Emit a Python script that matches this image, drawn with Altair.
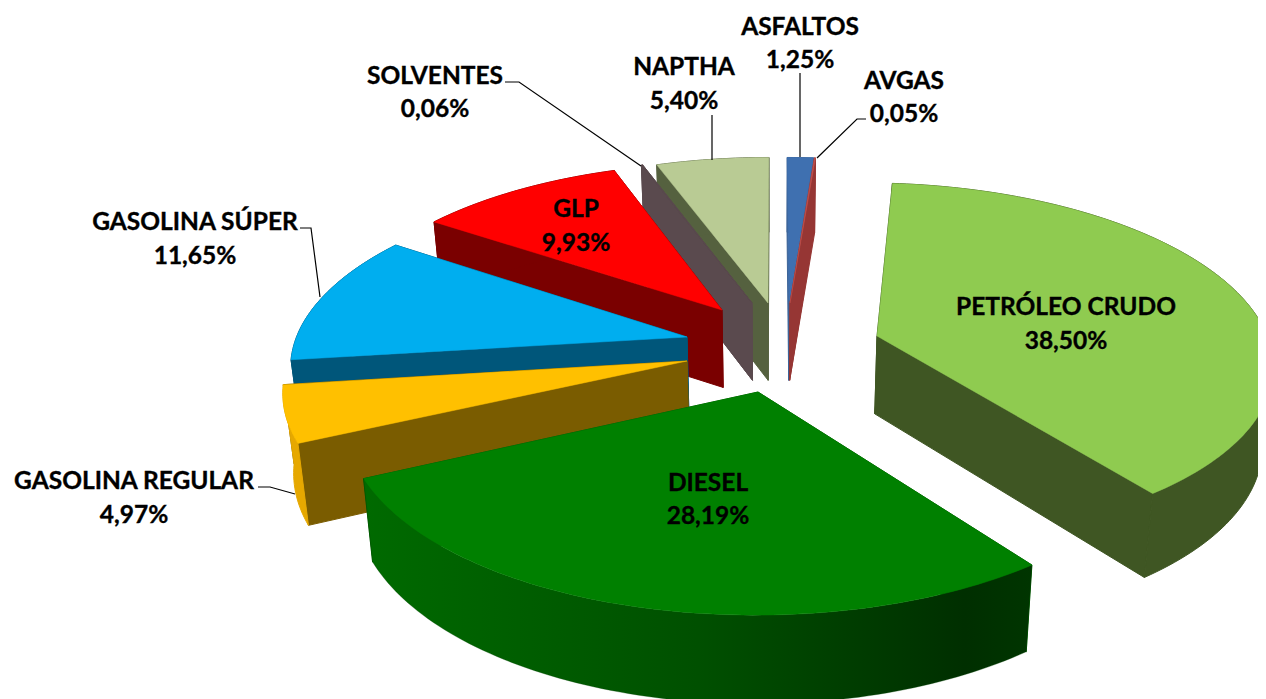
import numpy as np
import pandas as pd
import altair as alt

# data, clockwise from the top of the pie
products = ["ASFALTOS", "AVGAS", "PETRÓLEO CRUDO", "DIESEL", "GASOLINA REGULAR",
            "GASOLINA SÚPER", "GLP", "SOLVENTES", "NAPTHA"]
shares = [1.25, 0.05, 38.50, 28.19, 4.97, 11.65, 9.93, 0.06, 5.40]
share_text = ["1,25%", "0,05%", "38,50%", "28,19%", "4,97%", "11,65%", "9,93%", "0,06%", "5,40%"]

# styling
top_colors = ["#3f70b0", "#c0504d", "#8fcb50", "#008000", "#ffc000", "#00aeef", "#ff0000", "#5a4a4e", "#b9cb94"]
wall_colors = ["#3d6498", "#963634", "#3f5623", "#005f00", "#7a5c00", "#00567a", "#7a0000", "#5a4a4e", "#55613f"]
rim_colors = ["#3d6498", "#963634", "#3f5623", None, "#e6a800", "#00567a", "#7a0000", "#5a4a4e", "#55613f"]
apex_x = [789, 790, 877, 758, 687, 687, 722, 752, 768]
apex_y = [303, 303, 336, 392, 361, 337, 310, 303, 303]
draw_order = [0, 1, 8, 7, 6, 5, 4, 2, 3]

label_x = [800, 904, 1066, 708, 134, 195, 576, 435, 684]
label_y1 = [28, 82, 308, 484, 482, 223, 210, 77, 68]
label_y2 = [61, 115, 342, 517, 516, 257, 244, 110, 102]

leaders = {
    "asf": ([800, 800], [73, 157]),
    "avg": ([866, 857, 817], [119, 119, 158]),
    "nap": ([712, 712], [115, 160]),
    "sol": ([505, 519, 641], [82, 82, 166]),
    "sup": ([300, 311, 320], [228, 228, 297]),
    "reg": ([258, 270, 295], [487, 487, 494]),
}

# perspective of the tilted disc
CX, CY, RX, RY, P, BASE = 775.0, 345.0, 393.0, 177.0, 0.141, 0.978


def project(wx, wy):
    f = 1 / (1 + P * wy)
    return CX + RX * wx * f, CY - RY * wy * f, f


def unproject(sx, sy):
    v = (CY - sy) / RY
    f = 1 - P * v
    return (sx - CX) / (RX * f), v / f


def lower(sx, sy, f):
    depth = np.where(f > 1, 78 + (f - 1) * 50, 78 + (f - 1) * 20)
    return CX + (sx - CX) * BASE, sy + depth


xs = alt.X("x:Q", scale=alt.Scale(domain=[8, 1258], nice=False, zero=False), axis=None)
ys = alt.Y("y:Q", scale=alt.Scale(domain=[699, 8], nice=False, zero=False), axis=None)


def polygon(px, py, fill, sw=1.0):
    df = pd.DataFrame({"x": px, "y": py, "k": range(len(px))})
    return alt.Chart(df).mark_line(
        interpolate="linear-closed", fill=fill, stroke=fill if isinstance(fill, str) else "#004000",
        strokeWidth=sw, clip=True,
    ).encode(x=xs, y=ys, order="k:Q")


layers = []
edges = np.cumsum([0] + shares) / 100 * 2 * np.pi
for i in draw_order:
    wx0, wy0 = unproject(apex_x[i], apex_y[i])
    ang = np.linspace(edges[i], edges[i + 1], max(3, int(shares[i] * 3) + 2))
    sx, sy, f = project(wx0 + np.sin(ang), wy0 + np.cos(ang))
    bx, by = lower(sx, sy, f)
    ax, ay, af = project(wx0, wy0)
    abx, aby = lower(ax, ay, af)
    abx, aby = float(abx), float(aby)
    # radial walls, far one first
    walls = [0, -1] if np.cos(ang[0]) > np.cos(ang[-1]) else [-1, 0]
    for j in walls:
        layers.append(polygon([ax, sx[j], bx[j], abx], [ay, sy[j], by[j], aby], wall_colors[i]))
    # outer wall
    if rim_colors[i] is None:
        rim = alt.LinearGradient(gradient="linear", x1=0, x2=1, y1=0, y2=0, stops=[
            alt.GradientStop(color="#006a00", offset=0),
            alt.GradientStop(color="#005000", offset=0.5),
            alt.GradientStop(color="#002f00", offset=0.9),
            alt.GradientStop(color="#003500", offset=1),
        ])
        layers.append(polygon(list(sx) + list(bx[::-1]), list(sy) + list(by[::-1]), rim, 0.3))
    else:
        layers.append(polygon(list(sx) + list(bx[::-1]), list(sy) + list(by[::-1]), rim_colors[i]))
    # top face
    layers.append(polygon([ax] + list(sx), [ay] + list(sy), top_colors[i], 0.5))

for lx, ly in leaders.values():
    df = pd.DataFrame({"x": lx, "y": ly, "k": range(len(lx))})
    layers.append(alt.Chart(df).mark_line(color="#000000", strokeWidth=1.2).encode(x=xs, y=ys, order="k:Q"))

text_df = pd.DataFrame({
    "x": label_x * 2,
    "y": label_y1 + label_y2,
    "t": products + share_text,
})
layers.append(alt.Chart(text_df).mark_text(
    font="Lato", fontWeight="bold", fontSize=24.5, color="#000000", align="center", baseline="middle",
    stroke="#000000", strokeWidth=0.35,
).encode(x=xs, y=ys, text="t:N"))

chart = alt.layer(*layers).properties(
    width=1250, height=691, padding=0, autosize=alt.AutoSizeParams(type="none"),
).configure_view(stroke=None)

chart.save("out.html", embed_options={"renderer": "svg", "actions": False})
